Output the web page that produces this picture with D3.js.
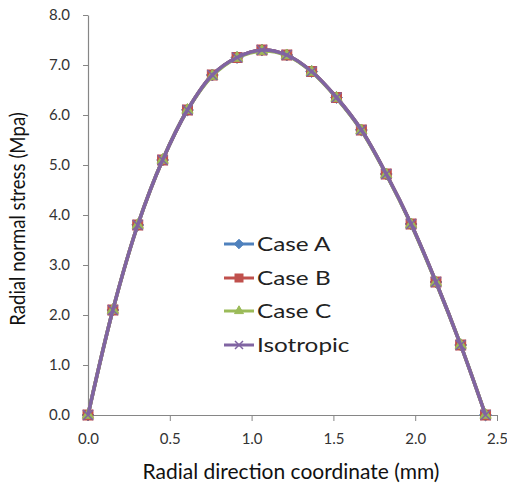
<!DOCTYPE html>
<html>
<head>
<meta charset="utf-8">
<script src="https://cdn.jsdelivr.net/npm/d3@7"></script>
<style>
  body { margin: 0; background: #fff; }
  text { font-family: Lato, "Open Sans", sans-serif; }
</style>
</head>
<body>
<svg width="507" height="487"></svg>
<script>
// radial coordinate (mm)
const radius = [0, 0.152, 0.304, 0.456, 0.608, 0.76, 0.911, 1.063, 1.215, 1.367, 1.519, 1.671, 1.823, 1.975, 2.127, 2.278, 2.43];
const caseA = [0, 2.1, 3.8, 5.1, 6.1, 6.8, 7.15, 7.3, 7.2, 6.87, 6.35, 5.7, 4.82, 3.82, 2.66, 1.4, 0];
const caseB = [0, 2.1, 3.8, 5.1, 6.1, 6.8, 7.15, 7.3, 7.2, 6.87, 6.35, 5.7, 4.82, 3.82, 2.66, 1.4, 0];
const caseC = [0, 2.1, 3.8, 5.1, 6.1, 6.78, 7.14, 7.28, 7.19, 6.86, 6.34, 5.69, 4.81, 3.81, 2.65, 1.4, 0];
const isotropic = [0, 2.1, 3.8, 5.1, 6.1, 6.8, 7.15, 7.3, 7.2, 6.87, 6.35, 5.7, 4.82, 3.82, 2.66, 1.4, 0];
const xTicks = [0, 0.5, 1.0, 1.5, 2.0, 2.5];
const yTicks = [0, 1, 2, 3, 4, 5, 6, 7, 8];

const seriesList = [
  {name: "Case A", values: caseA, color: "#4F81BD", marker: "diamond"},
  {name: "Case B", values: caseB, color: "#C0504D", marker: "square"},
  {name: "Case C", values: caseC, color: "#9BBB59", marker: "triangle"},
  {name: "Isotropic", values: isotropic, color: "#8064A2", marker: "x"}
];

const svg = d3.select("svg");
const x = d3.scaleLinear().domain([0, 2.5]).range([88, 497]);
const y = d3.scaleLinear().domain([0, 8]).range([415, 15]);

// axes
const xAxis = svg.append("g")
  .attr("transform", `translate(0,${y(0)})`)
  .call(d3.axisBottom(x).tickValues(xTicks).tickFormat(d3.format(".1f")).tickSize(6).tickSizeOuter(0));
const yAxis = svg.append("g")
  .attr("transform", `translate(${x(0)},0)`)
  .call(d3.axisLeft(y).tickValues(yTicks).tickFormat(d3.format(".1f")).tickSize(5).tickSizeOuter(0));

[xAxis, yAxis].forEach(g => {
  g.select(".domain").attr("stroke", "#868686").attr("stroke-width", 1.2);
  g.selectAll(".tick line").attr("stroke", "#868686");
  g.selectAll(".tick text").attr("fill", "#333").style("font-size", "15px").style("font-family", "Lato, sans-serif");
});
xAxis.selectAll(".tick text").attr("dy", "1.3em");
yAxis.selectAll(".tick text").attr("x", -18);

// axis titles
svg.append("text")
  .attr("x", 291).attr("y", 479)
  .attr("text-anchor", "middle")
  .style("font-size", "21px").attr("fill", "#111")
  .text("Radial direction coordinate (mm)");
svg.append("text")
  .attr("transform", `translate(25,219) rotate(-90) scale(1,1.1)`)
  .attr("text-anchor", "middle")
  .style("font-size", "18.6px").attr("fill", "#111")
  .text("Radial normal stress (Mpa)");

const line = d3.line()
  .x((d, i) => x(radius[i]))
  .y(d => y(d))
  .curve(d3.curveCatmullRom.alpha(0.5));

function drawMarker(g, type, color, size) {
  if (type === "diamond") {
    g.append("path").attr("d", d3.symbol(d3.symbolDiamond2, size * size * 0.9)())
      .attr("fill", color).attr("stroke", color);
  } else if (type === "square") {
    g.append("rect").attr("x", -size / 2).attr("y", -size / 2)
      .attr("width", size).attr("height", size)
      .attr("fill", color).attr("stroke", color);
  } else if (type === "triangle") {
    g.append("path").attr("d", d3.symbol(d3.symbolTriangle, size * size * 0.55)())
      .attr("fill", color).attr("stroke", color);
  } else {
    const h = size / 2;
    g.append("path").attr("d", `M${-h},${-h}L${h},${h}M${-h},${h}L${h},${-h}`)
      .attr("stroke", color).attr("stroke-width", 1.5).attr("fill", "none");
  }
}

seriesList.forEach(s => {
  svg.append("path")
    .attr("d", line(s.values))
    .attr("fill", "none")
    .attr("stroke", s.color)
    .attr("stroke-width", 3.5);
  s.values.forEach((v, i) => {
    const g = svg.append("g").attr("transform", `translate(${x(radius[i])},${y(v)})`);
    drawMarker(g, s.marker, s.color, 10);
  });
});

// legend
const legendY = [244, 278, 311, 345];
seriesList.forEach((s, i) => {
  const g = svg.append("g").attr("transform", `translate(224,${legendY[i]})`);
  g.append("line").attr("x1", 0).attr("x2", 30).attr("y1", 0).attr("y2", 0)
    .attr("stroke", s.color).attr("stroke-width", 3);
  const m = g.append("g").attr("transform", "translate(15,0)");
  drawMarker(m, s.marker, s.color, 8);
  g.append("text")
    .attr("transform", "translate(33,7) scale(1.28,1)")
    .style("font-size", "19px").attr("fill", "#222")
    .text(s.name);
});
</script>
</body>
</html>
